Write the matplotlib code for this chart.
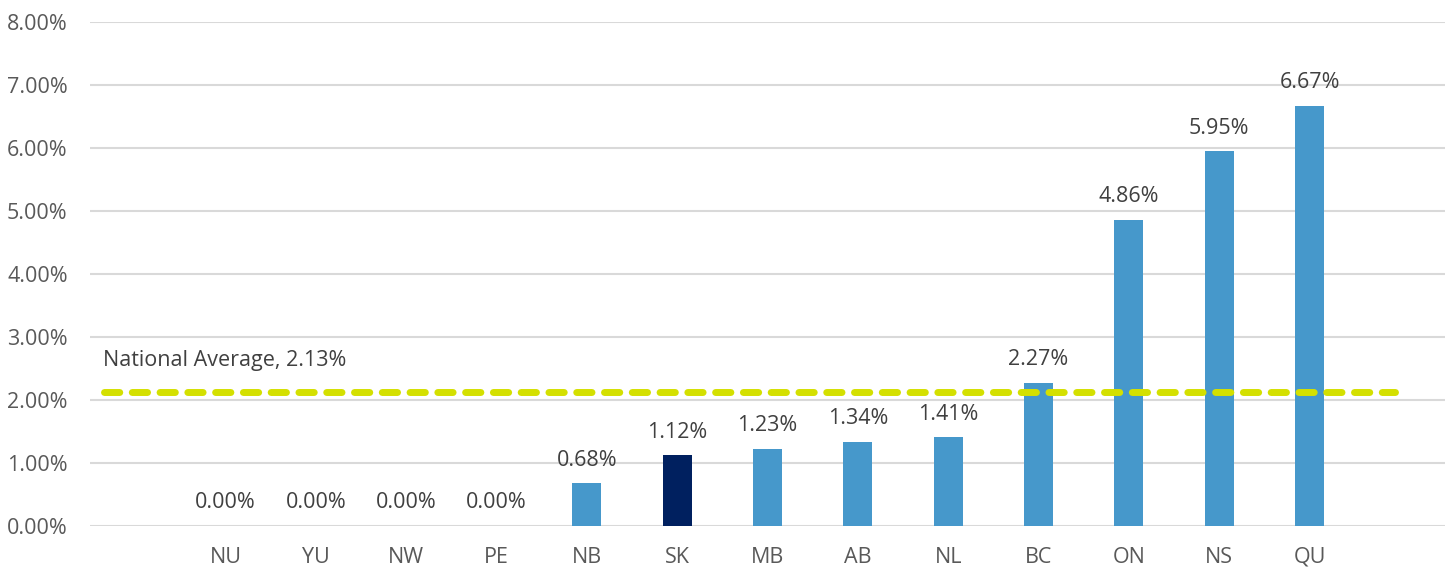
import numpy as np
import matplotlib
matplotlib.use("Agg")
import matplotlib.pyplot as plt
from matplotlib.ticker import FuncFormatter

# data
provinces = ["NU", "YU", "NW", "PE", "NB", "SK", "MB", "AB", "NL", "BC", "ON", "NS", "QU"]
rates = [0.0, 0.0, 0.0, 0.0, 0.68, 1.12, 1.23, 1.34, 1.41, 2.27, 4.86, 5.95, 6.67]
highlight = "SK"
national_avg = 2.13

plt.rcParams['font.family'] = ['Open Sans', 'DejaVu Sans']

fig = plt.figure(figsize=(14.53, 5.71), dpi=100)
ax = fig.add_axes([0.0619, 0.0788, 0.9326, 0.8827])

x = np.arange(len(provinces))
colors = ['#00205F' if p == highlight else '#4698CB' for p in provinces]
ax.bar(x, rates, width=0.32, color=colors, zorder=2)

# value labels above bars
for xi, v in zip(x, rates):
    ax.text(xi, v + 0.2, f"{v:.2f}%", ha='center', va='bottom',
            fontsize=15.5, color='#404040')

# national average dashed line
ax.plot([-1.34, 12.95], [national_avg, national_avg], color='#D4E000',
        lw=5, ls=(0, (2.2, 1.8)), dash_capstyle='round', zorder=3)
ax.text(-1.36, national_avg + 0.33, f"National Average, {national_avg:.2f}%",
        ha='left', va='bottom', fontsize=15.5, color='#404040')

ax.set_xlim(-1.5, len(provinces) + 0.5)
ax.set_ylim(0, 8)
ax.set_yticks(np.arange(0, 9, 1))
ax.yaxis.set_major_formatter(FuncFormatter(lambda v, p: f"{v:.2f}%"))
ax.set_xticks(x)
ax.set_xticklabels(provinces)
ax.grid(axis='y', color='#D9D9D9', lw=1.5, zorder=0)
ax.tick_params(length=0, labelsize=15.5, labelcolor='#595959')
ax.tick_params(axis='x', pad=15)
ax.tick_params(axis='y', pad=16)
for s in ax.spines.values():
    s.set_visible(False)

fig.savefig("out.png", dpi=100)
